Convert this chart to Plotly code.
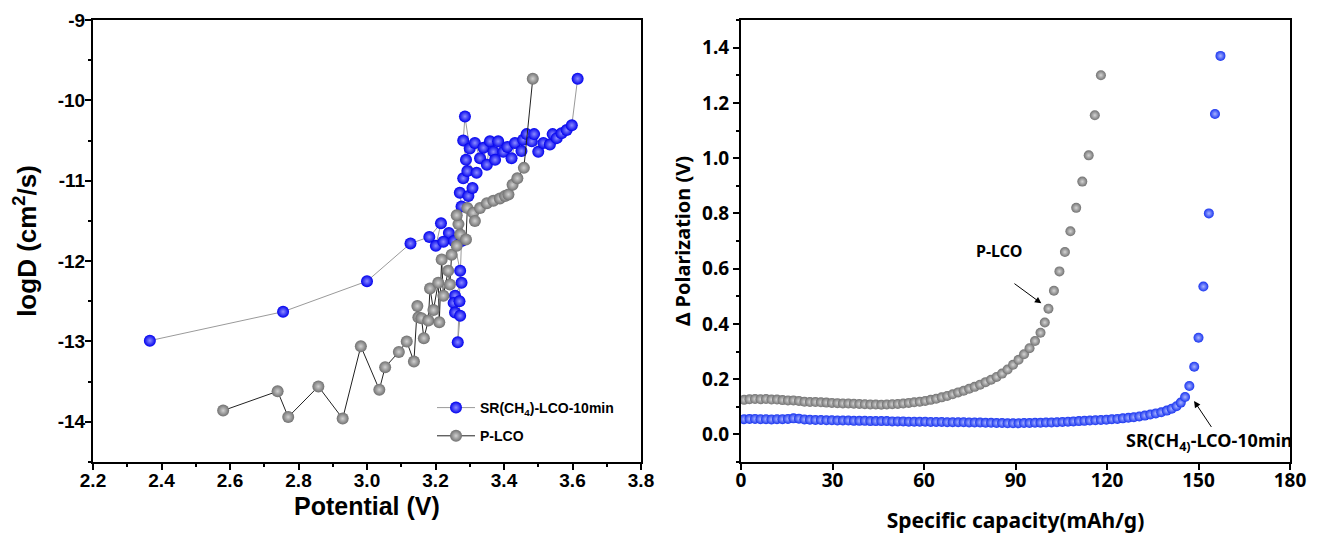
import plotly.graph_objects as go

# ---------------- Left panel data (GITT logD vs potential) ----------------
pot_sr = [2.366, 2.755, 3.000, 3.127, 3.182, 3.216, 3.201, 3.239, 3.223, 3.254,
          3.272, 3.276, 3.257, 3.253, 3.257, 3.272, 3.265, 3.270, 3.276, 3.276,
          3.271, 3.296, 3.308, 3.281, 3.293, 3.320, 3.289, 3.281, 3.286, 3.300,
          3.315, 3.330, 3.340, 3.350, 3.359, 3.369, 3.374, 3.383, 3.398, 3.410,
          3.422, 3.432, 3.451, 3.456, 3.466, 3.481, 3.488, 3.500, 3.515, 3.534,
          3.542, 3.554, 3.568, 3.583, 3.598, 3.615]
logd_sr = [-12.99, -12.63, -12.25, -11.78, -11.70, -11.53, -11.81, -11.65, -11.76, -11.75,
           -12.12, -12.27, -12.43, -12.52, -12.64, -12.68, -13.01, -12.50, -11.75, -11.32,
           -11.15, -11.19, -11.09, -10.97, -10.88, -10.90, -10.74, -10.50, -10.20, -10.60,
           -10.53, -10.72, -10.59, -10.80, -10.51, -10.64, -10.74, -10.51, -10.64, -10.58,
           -10.72, -10.53, -10.63, -10.49, -10.42, -10.51, -10.42, -10.64, -10.53, -10.55,
           -10.42, -10.47, -10.41, -10.37, -10.31, -9.73]

pot_p = [2.580, 2.739, 2.770, 2.858, 2.929, 2.982, 3.036, 3.053, 3.093, 3.116,
         3.137, 3.147, 3.150, 3.159, 3.166, 3.179, 3.184, 3.194, 3.208, 3.211,
         3.218, 3.223, 3.237, 3.242, 3.247, 3.262, 3.267, 3.272, 3.262, 3.289,
         3.293, 3.310, 3.315, 3.330, 3.350, 3.369, 3.388, 3.403, 3.413, 3.425,
         3.439, 3.458, 3.484]
logd_p = [-13.86, -13.62, -13.94, -13.56, -13.96, -13.06, -13.60, -13.32, -13.13, -13.00,
          -13.25, -12.56, -12.70, -12.71, -12.96, -12.74, -12.34, -12.61, -12.27, -12.76,
          -11.98, -12.43, -12.12, -12.29, -11.92, -11.81, -11.54, -11.67, -11.43, -11.73,
          -11.34, -11.40, -11.50, -11.34, -11.28, -11.25, -11.22, -11.19, -11.17, -11.05,
          -10.97, -10.84, -9.73]

left_y_ticks = [-14, -13, -12, -11, -10, -9]
left_y_labels = ["-14", "-13", "-12", "-11", "-10", "-9"]

# ---------------- Right panel data (polarization vs capacity) ----------------
cap_p = [1.0, 2.8, 4.6, 6.4, 8.2, 10.0, 11.8, 13.6, 15.4, 17.2, 19.0, 20.8, 22.6, 24.4,
         26.2, 28.0, 29.8, 31.6, 33.4, 35.2, 37.0, 38.8, 40.6, 42.4, 44.2, 46.0, 47.8,
         49.6, 51.4, 53.2, 55.0, 56.8, 58.6, 60.4, 62.2, 64.0, 65.8, 67.6, 69.4, 71.2,
         73.0, 74.8, 76.6, 78.4, 80.2, 82.0, 83.8, 85.6, 87.4, 89.2, 91.0, 92.8, 94.6,
         96.4, 98.2, 99.6, 100.8, 102.6, 104.4, 106.2, 108.0, 109.9, 111.9, 114.0,
         116.0, 118.0]
pol_p = [0.125, 0.127, 0.128, 0.127, 0.128, 0.126, 0.126, 0.124, 0.123, 0.123, 0.121,
         0.118, 0.117, 0.117, 0.116, 0.115, 0.114, 0.113, 0.112, 0.112, 0.111, 0.110,
         0.109, 0.108, 0.108, 0.107, 0.108, 0.109, 0.110, 0.112, 0.114, 0.116, 0.118,
         0.121, 0.125, 0.129, 0.134, 0.139, 0.145, 0.152, 0.158, 0.165, 0.172, 0.180,
         0.189, 0.198, 0.208, 0.220, 0.235, 0.252, 0.270, 0.290, 0.312, 0.338, 0.368,
         0.405, 0.455, 0.520, 0.590, 0.660, 0.735, 0.820, 0.915, 1.010, 1.155, 1.300]

cap_sr = [1.0, 2.8, 4.6, 6.4, 8.2, 10.0, 11.8, 13.6, 15.4, 17.2, 19.0, 20.8, 22.6, 24.4,
          26.2, 28.0, 29.8, 31.6, 33.4, 35.2, 37.0, 38.8, 40.6, 42.4, 44.2, 46.0, 47.8,
          49.6, 51.4, 53.2, 55.0, 56.8, 58.6, 60.4, 62.2, 64.0, 65.8, 67.6, 69.4, 71.2,
          73.0, 74.8, 76.6, 78.4, 80.2, 82.0, 83.8, 85.6, 87.4, 89.2, 91.0, 92.8, 94.6,
          96.4, 98.2, 100.0, 101.8, 103.6, 105.4, 107.2, 109.0, 110.8, 112.6, 114.4,
          116.2, 118.0, 119.8, 121.6, 123.4, 125.2, 127.0, 128.8, 130.6, 132.4, 134.2,
          136.0, 137.8, 139.6, 141.2, 142.8, 144.2, 145.6, 147.0, 148.6, 150.0, 151.6,
          153.4, 155.4, 157.2]
pol_sr = [0.055, 0.056, 0.056, 0.055, 0.055, 0.054, 0.055, 0.055, 0.056, 0.058, 0.057,
          0.054, 0.053, 0.052, 0.052, 0.051, 0.051, 0.050, 0.050, 0.050, 0.049, 0.049,
          0.049, 0.048, 0.048, 0.048, 0.048, 0.047, 0.047, 0.047, 0.046, 0.046, 0.046,
          0.046, 0.045, 0.045, 0.045, 0.044, 0.044, 0.044, 0.044, 0.043, 0.043, 0.043,
          0.042, 0.042, 0.041, 0.041, 0.040, 0.040, 0.040, 0.041, 0.041, 0.042, 0.042,
          0.043, 0.043, 0.044, 0.045, 0.046, 0.047, 0.048, 0.049, 0.050, 0.051, 0.052,
          0.053, 0.055, 0.056, 0.058, 0.060, 0.062, 0.065, 0.068, 0.072, 0.076, 0.080,
          0.086, 0.093, 0.102, 0.115, 0.135, 0.175, 0.245, 0.350, 0.535, 0.800, 1.160,
          1.370]

name_sr = "SR(CH<sub>4</sub>)-LCO-10min"
name_p = "P-LCO"

LEFT_FONT = "Liberation Sans, Arial, sans-serif"
RIGHT_FONT = "Noto Sans, Open Sans, sans-serif"

blue_left = dict(size=12, color="#0000ee",
                 gradient=dict(type="radial", color="#8c8cff"), line=dict(width=0))
gray_left = dict(size=12, color="#707070",
                 gradient=dict(type="radial", color="#d0d0d0"), line=dict(width=0))
blue_right = dict(size=10, color="#1a35f0",
                  gradient=dict(type="radial", color="#a8b4ff"), line=dict(width=0))
gray_right = dict(size=10, color="#727272",
                  gradient=dict(type="radial", color="#d4d4d4"), line=dict(width=0))

fig = go.Figure()
fig.add_trace(go.Scatter(x=pot_sr, y=logd_sr, mode="lines+markers", name=name_sr,
                         legendgroup="sr",
                         line=dict(color="#9a9a9a", width=1), marker=blue_left,
                         xaxis="x", yaxis="y"))
fig.add_trace(go.Scatter(x=pot_p, y=logd_p, mode="lines+markers", name=name_p,
                         legendgroup="p",
                         line=dict(color="#222222", width=1), marker=gray_left,
                         xaxis="x", yaxis="y"))
fig.add_trace(go.Scatter(x=cap_p, y=pol_p, mode="markers", name=name_p, showlegend=False,
                         marker=gray_right, xaxis="x2", yaxis="y2"))
fig.add_trace(go.Scatter(x=cap_sr, y=pol_sr, mode="markers", name=name_sr, showlegend=False,
                         marker=blue_right, xaxis="x2", yaxis="y2"))

# page body has an 8px default margin -> figure drawn 8px in from the window edge
OFF = 8
W, H = 1323 - OFF, 548 - OFF
def px_x(p):
    return (p - OFF) / W
def px_y(p):
    return 1 - (p - OFF) / H

axis_common = dict(showline=True, linecolor="black", linewidth=2, mirror=True,
                   ticks="outside", ticklen=6, tickwidth=2, tickcolor="black",
                   showgrid=False, zeroline=False, automargin=False)

fig.update_layout(
    width=W, height=H,
    margin=dict(l=0, r=0, t=0, b=0),
    paper_bgcolor="white", plot_bgcolor="white",
    showlegend=True,
    legend=dict(x=px_x(432), y=px_y(392), xanchor="left", yanchor="top",
                font=dict(family=LEFT_FONT, size=14, color="black", weight="bold"),
                bgcolor="rgba(0,0,0,0)", tracegroupgap=7, itemwidth=38),
    xaxis=dict(domain=[px_x(93), px_x(641)], range=[2.2, 3.8], dtick=0.2, tick0=2.2,
               tickformat=".1f", ticklabelstandoff=-6,
               minor=dict(dtick=0.1, ticklen=3, tickwidth=2, tickcolor="black", ticks="outside"),
               tickfont=dict(family=LEFT_FONT, size=19, color="black", weight="bold"),
               anchor="y", **axis_common),
    yaxis=dict(domain=[px_y(462), px_y(20)], range=[-14.5, -9],
               tickvals=left_y_ticks, ticktext=left_y_labels, ticklabelstandoff=-4,
               minor=dict(dtick=0.5, ticklen=3, tickwidth=2, tickcolor="black", ticks="outside"),
               tickfont=dict(family=LEFT_FONT, size=19, color="black", weight="bold"),
               title=dict(text="logD (cm<sup>2</sup>/s)", standoff=14,
                          font=dict(family=LEFT_FONT, size=26, color="black", weight="bold")),
               anchor="x", **axis_common),
    xaxis2=dict(domain=[px_x(741), px_x(1290)], range=[0, 180], dtick=30, tick0=0,
                ticklabelstandoff=-6,
                tickfont=dict(family=RIGHT_FONT, size=19, color="black", weight="bold"),
                title=dict(text="Specific capacity(mAh/g)", standoff=22,
                           font=dict(family=RIGHT_FONT, size=21, color="black", weight="bold")),
                anchor="y2", **axis_common),
    yaxis2=dict(domain=[px_y(462), px_y(20)], range=[-0.1, 1.5], dtick=0.2, tick0=0,
                tickformat=".1f",
                minor=dict(dtick=0.1, ticklen=3, tickwidth=2, tickcolor="black", ticks="outside"),
                tickfont=dict(family=RIGHT_FONT, size=19, color="black", weight="bold"),
                title=dict(text="Δ Polarization (V)", standoff=6,
                           font=dict(family=RIGHT_FONT, size=20, color="black", weight="bold")),
                anchor="x2", **axis_common),
    annotations=[
        dict(x=px_x(367), y=px_y(506), xref="paper", yref="paper", text="Potential (V)",
             showarrow=False, xanchor="center", yanchor="middle",
             font=dict(family=LEFT_FONT, size=25, color="black", weight="bold")),
        dict(x=84.5, y=0.665, xref="x2", yref="y2", text="P-LCO", showarrow=False,
             font=dict(family=RIGHT_FONT, size=16, color="black", weight="bold")),
        dict(x=99.0, y=0.47, xref="x2", yref="y2", text="", showarrow=True,
             ax=-30, ay=-22, arrowhead=2, arrowsize=1.3, arrowwidth=1, arrowcolor="black",
             standoff=2),
        dict(x=153.5, y=-0.025, xref="x2", yref="y2", text="SR(CH<sub>4)</sub>-LCO-10min",
             showarrow=False,
             font=dict(family=RIGHT_FONT, size=18, color="black", weight="bold")),
        dict(x=148.0, y=0.13, xref="x2", yref="y2", text="", showarrow=True,
             ax=20, ay=30, arrowhead=2, arrowsize=1.3, arrowwidth=1, arrowcolor="black",
             standoff=3),
    ],
)

fig.write_html("out.html")
